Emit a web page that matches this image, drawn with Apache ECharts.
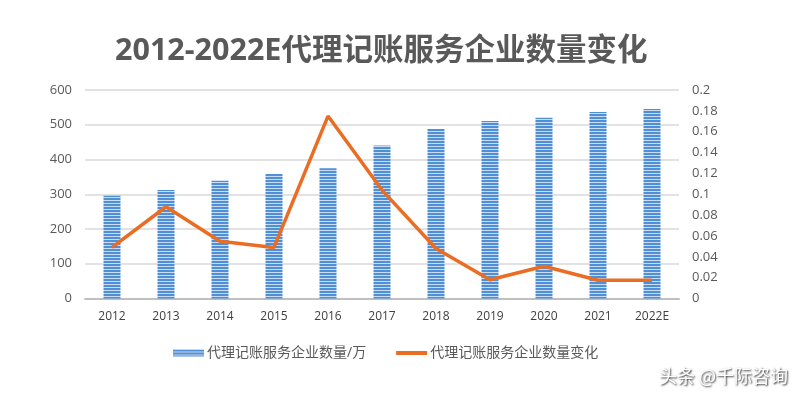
<!DOCTYPE html>
<html>
<head>
<meta charset="utf-8">
<script src="https://cdn.jsdelivr.net/npm/echarts@6/dist/echarts.min.js"></script>
<style>html,body{margin:0;padding:0;background:#fff}#c{width:800px;height:400px}</style>
</head>
<body>
<div id="c"></div>
<script>
var categories = ['2012','2013','2014','2015','2016','2017','2018','2019','2020','2021','2022E'];
var companyCount = [296, 312, 339, 358, 375, 440, 488, 511, 520, 537, 545];
var changeRate = [0.049, 0.088, 0.055, 0.049, 0.175, 0.104, 0.048, 0.018, 0.031, 0.0175, 0.0175];
var leftTicks = [0, 600, 100];
var rightTicks = [0, 0.2, 0.02];

var pc = document.createElement('canvas');
pc.width = 4; pc.height = 3;
var ctx = pc.getContext('2d');
ctx.fillStyle = '#4f8fd6'; ctx.fillRect(0,0,4,2);
ctx.fillStyle = '#c9dcf3'; ctx.fillRect(0,2,4,1);

var font = '"Open Sans","Noto Sans CJK SC",sans-serif';
var chart = echarts.init(document.getElementById('c'));
chart.setOption({
  animation: false,
  textStyle: {fontFamily: font},
  title: {
    text: '2012-2022E代理记账服务企业数量变化',
    left: 110, top: 31,
    textStyle: {fontSize: 30.5, fontWeight: 'bold', color: '#595959', fontFamily: font}
  },
  legend: {
    left: 168, top: 341,
    itemWidth: 31, itemHeight: 7, itemGap: 30,
    symbolKeepAspect: true,
    textStyle: {fontSize: 14, color: '#595959', padding: [0, 0, 0, -2]},
    data: [
      {name: '代理记账服务企业数量/万', icon: 'rect'},
      {name: '代理记账服务企业数量变化', icon: 'path://M0,0H31V4H0Z'}
    ]
  },
  grid: {left: 85, right: 121, top: 90, bottom: 101.5},
  xAxis: {
    type: 'category', data: categories,
    axisLine: {lineStyle: {color: '#bfbfbf', width: 2}},
    axisTick: {show: false},
    axisLabel: {color: '#404040', fontSize: 12, margin: 12}
  },
  yAxis: [{
    type: 'value', min: leftTicks[0], max: leftTicks[1], interval: leftTicks[2],
    axisLine: {show: false}, axisTick: {show: false},
    axisLabel: {color: '#595959', fontSize: 13, margin: 13},
    splitLine: {lineStyle: {color: '#d9d9d9', width: 1.5}}
  }, {
    type: 'value', min: rightTicks[0], max: rightTicks[1], interval: rightTicks[2],
    axisLine: {show: false}, axisTick: {show: false},
    axisLabel: {color: '#595959', fontSize: 13, margin: 13},
    splitLine: {show: false}
  }],
  series: [{
    name: '代理记账服务企业数量/万', type: 'bar', data: companyCount,
    barWidth: 17,
    itemStyle: {color: {image: pc, repeat: 'repeat'}}
  }, {
    name: '代理记账服务企业数量变化', type: 'line', yAxisIndex: 1, data: changeRate,
    symbol: 'none', lineStyle: {color: '#eb6d23', width: 3.5},
    itemStyle: {color: '#eb6d23'}
  }],
  graphic: [{
    type: 'text', right: 12, top: 367,
    style: {
      text: '头条 @千际咨询', fontSize: 18, fill: '#ffffff',
      fontFamily: '"Noto Sans CJK SC",sans-serif',
      textShadowColor: 'rgba(0,0,0,0.85)', textShadowBlur: 2,
      textShadowOffsetX: 1, textShadowOffsetY: 1
    }
  }]
});
</script>
</body>
</html>
